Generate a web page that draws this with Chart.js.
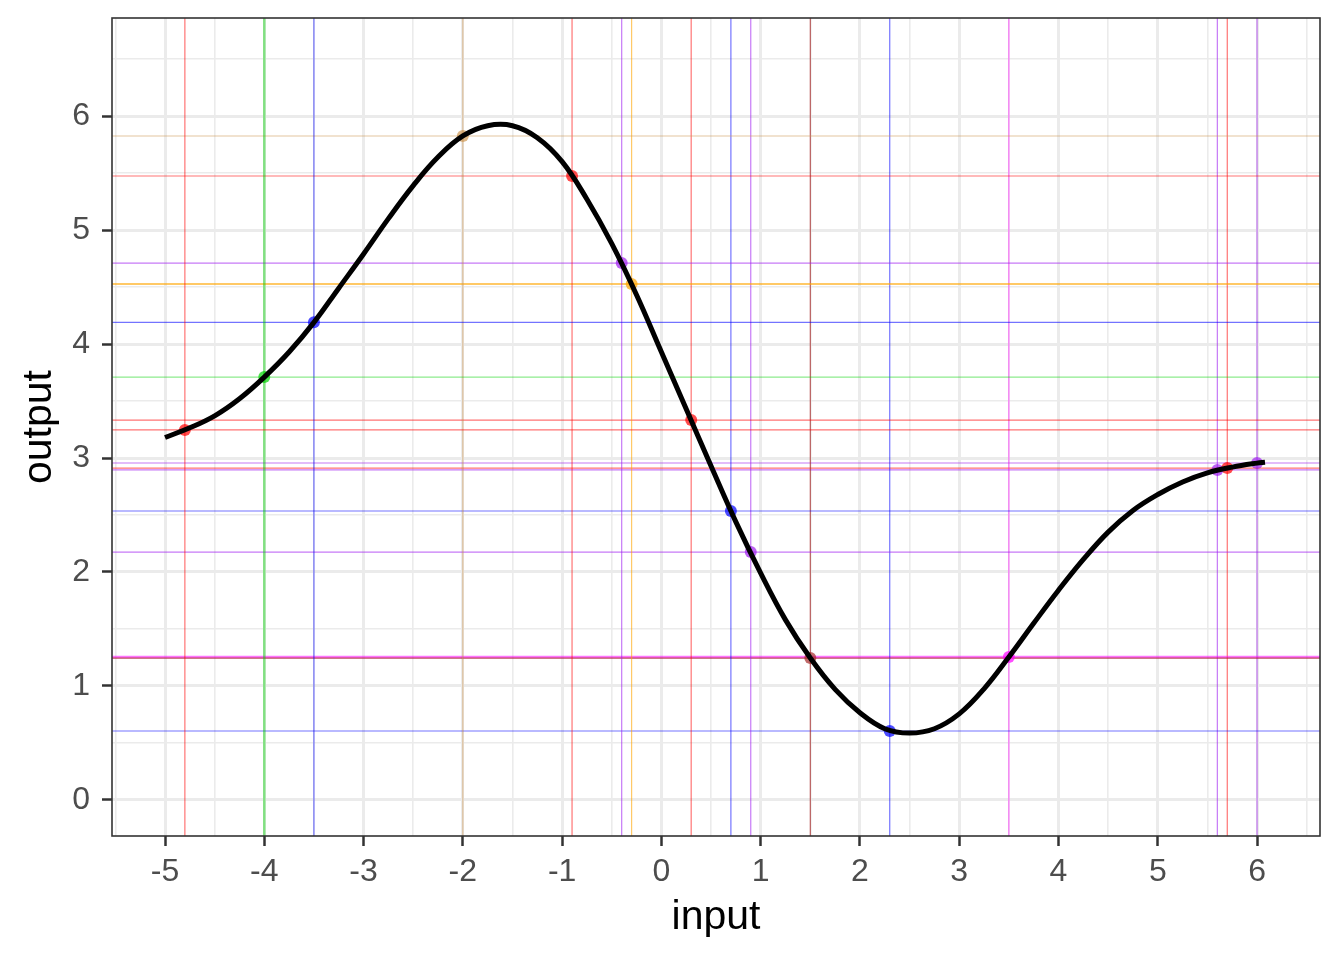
<!DOCTYPE html>
<html>
<head>
<meta charset="utf-8">
<script src="https://cdn.jsdelivr.net/npm/chart.js@4"></script>
<style>
  body { margin: 0; background: #fff; }
</style>
</head>
<body>
<canvas id="myChart" width="1344" height="960"></canvas>
<script>
// highlighted input points
const pointX = [-4.8, -4, -3.5, -2, -0.9, -0.4, -0.3, 0.3, 0.7, 0.9, 1.5, 2.3, 3.5, 5.6, 5.7, 6.0];
const pointY = [3.246, 3.71, 4.19, 5.825, 5.474, 4.71, 4.526, 3.333, 2.535, 2.175, 1.245, 0.605, 1.254, 2.895, 2.912, 2.956];
const pointGroup = ["red", "green", "blue", "tan", "red", "purple", "orange", "red", "blue", "purple", "brown", "blue", "magenta", "purple", "red", "purple"];

// smooth output curve, every 0.25
const curveX = [-5.0, -4.75, -4.5, -4.25, -4.0, -3.75, -3.5, -3.25, -3.0, -2.75, -2.5, -2.25, -2.0, -1.75, -1.5, -1.25, -1.0, -0.75, -0.5, -0.25,
  0.0, 0.25, 0.5, 0.75, 1.0, 1.25, 1.5, 1.75, 2.0, 2.25, 2.5, 2.75, 3.0, 3.25, 3.5, 3.75, 4.0, 4.25, 4.5, 4.75, 5.0, 5.25, 5.5, 5.75, 6.0, 6.08];
const curveY = [3.18, 3.265, 3.37, 3.52, 3.71, 3.93, 4.19, 4.49, 4.79, 5.10, 5.39, 5.64, 5.825, 5.915, 5.915, 5.81, 5.60, 5.27, 4.88, 4.43,
  3.93, 3.43, 2.93, 2.44, 1.99, 1.58, 1.245, 0.97, 0.765, 0.625, 0.587, 0.625, 0.755, 0.975, 1.254, 1.55, 1.84, 2.11, 2.35, 2.54, 2.68, 2.79, 2.87, 2.92, 2.955, 2.962];

// axes
const xTicks = [-5, -4, -3, -2, -1, 0, 1, 2, 3, 4, 5, 6];
const xTickLabels = ["-5", "-4", "-3", "-2", "-1", "0", "1", "2", "3", "4", "5", "6"];
const xMinor = [-5.5, -4.5, -3.5, -2.5, -1.5, -0.5, 0.5, 1.5, 2.5, 3.5, 4.5, 5.5, 6.5];
const yTicks = [0, 1, 2, 3, 4, 5, 6];
const yTickLabels = ["0", "1", "2", "3", "4", "5", "6"];
const yMinor = [0.5, 1.5, 2.5, 3.5, 4.5, 5.5, 6.5];

const X_MIN = -5.534, X_MAX = 6.634;
const Y_MIN = -0.316, Y_MAX = 6.86;

const groupColors = {
  red: "rgba(255,0,0,0.55)",
  green: "rgba(0,210,0,0.45)",
  blue: "rgba(0,0,255,0.55)",
  tan: "rgba(205,150,80,0.55)",
  purple: "rgba(160,32,240,0.6)",
  orange: "rgba(255,165,0,0.6)",
  brown: "rgba(165,42,42,0.75)",
  magenta: "rgba(255,0,255,0.55)",
};
const vWidth = { green: 2.5 };
const hWidth = { orange: 2, magenta: 2.5 };

const datasets = [];

// the curve goes on top
datasets.push({
  data: curveX.map((x, i) => ({ x: x, y: curveY[i] })),
  showLine: true,
  borderColor: "#000",
  borderWidth: 5,
  pointRadius: 0,
  tension: 0.4,
  order: 0,
});

datasets.push({
  data: pointX.map((x, i) => ({ x: x, y: pointY[i] })),
  backgroundColor: pointGroup.map((g) => groupColors[g].replace(/[\d.]+\)$/, "0.7)")),
  borderWidth: 0,
  pointRadius: 6,
  order: 1,
});

pointX.forEach((x, i) => {
  const g = pointGroup[i];
  datasets.push({
    data: [{ x: x, y: Y_MIN }, { x: x, y: Y_MAX }],
    showLine: true,
    borderColor: groupColors[g],
    borderWidth: vWidth[g] || 1.2,
    pointRadius: 0,
    order: 2,
  });
  datasets.push({
    data: [{ x: X_MIN, y: pointY[i] }, { x: X_MAX, y: pointY[i] }],
    showLine: true,
    borderColor: groupColors[g],
    borderWidth: hWidth[g] || 1.2,
    pointRadius: 0,
    order: 2,
  });
});

const isMajor = (v) => Number.isInteger(v);

const panelBorder = {
  id: "panelBorder",
  afterDatasetsDraw(chart) {
    const a = chart.chartArea;
    const c = chart.ctx;
    c.save();
    c.strokeStyle = "#333333";
    c.lineWidth = 1.6;
    c.strokeRect(a.left, a.top, a.right - a.left, a.bottom - a.top);
    c.restore();
  },
};

const ctx = document.getElementById("myChart").getContext("2d");

new Chart(ctx, {
  type: "scatter",
  data: { datasets: datasets },
  plugins: [panelBorder],
  options: {
    responsive: false,
    animation: false,
    layout: { padding: { left: 0, right: 24, top: 18, bottom: 0 } },
    plugins: {
      legend: { display: false },
      tooltip: { enabled: false },
    },
    scales: {
      x: {
        type: "linear",
        min: X_MIN,
        max: X_MAX,
        afterBuildTicks: (scale) => {
          scale.ticks = xMinor.concat(xTicks).sort((a, b) => a - b).map((v) => ({ value: v }));
        },
        afterFit: (scale) => {
          scale.height = 124;
          scale.paddingLeft = 0;
          scale.paddingRight = 0;
        },
        border: { display: false },
        grid: {
          color: "#EBEBEB",
          lineWidth: (c) => (isMajor(c.tick.value) ? 3 : 1.6),
          tickColor: (c) => (isMajor(c.tick.value) ? "#333333" : "rgba(0,0,0,0)"),
          tickWidth: 2.5,
          tickLength: 10,
        },
        ticks: {
          autoSkip: false,
          maxRotation: 0,
          padding: 7,
          color: "#4D4D4D",
          font: { family: "Liberation Sans", size: 32 },
          callback: (v) => {
            const k = xTicks.indexOf(v);
            return k >= 0 ? xTickLabels[k] : "";
          },
        },
        title: {
          display: true,
          text: "input",
          color: "#000",
          font: { family: "Liberation Sans", size: 41 },
          padding: { top: 0, bottom: 18 },
        },
      },
      y: {
        type: "linear",
        min: Y_MIN,
        max: Y_MAX,
        afterBuildTicks: (scale) => {
          scale.ticks = yMinor.concat(yTicks).sort((a, b) => a - b).map((v) => ({ value: v }));
        },
        afterFit: (scale) => {
          scale.width = 112;
          scale.paddingTop = 0;
          scale.paddingBottom = 0;
        },
        border: { display: false },
        grid: {
          color: "#EBEBEB",
          lineWidth: (c) => (isMajor(c.tick.value) ? 3 : 1.6),
          tickColor: (c) => (isMajor(c.tick.value) ? "#333333" : "rgba(0,0,0,0)"),
          tickWidth: 2.5,
          tickLength: 10,
        },
        ticks: {
          autoSkip: false,
          padding: 12,
          color: "#4D4D4D",
          font: { family: "Liberation Sans", size: 32 },
          callback: (v) => {
            const k = yTicks.indexOf(v);
            return k >= 0 ? yTickLabels[k] : "";
          },
        },
        title: {
          display: true,
          text: "output",
          color: "#000",
          font: { family: "Liberation Sans", size: 41 },
          padding: { top: 15, bottom: 0 },
        },
      },
    },
  },
});
</script>
</body>
</html>
